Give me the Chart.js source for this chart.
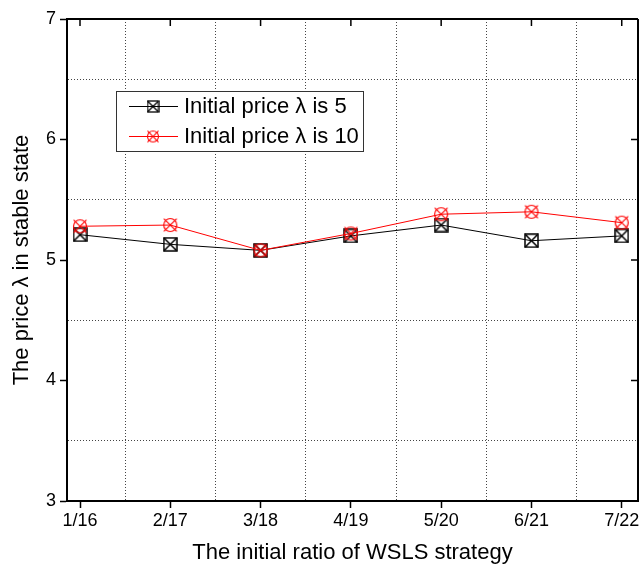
<!DOCTYPE html>
<html>
<head>
<meta charset="utf-8">
<script src="https://cdn.jsdelivr.net/npm/chart.js@4/dist/chart.umd.min.js"></script>
<style>
  html, body { margin: 0; padding: 0; background: #fff; }
  #wrap { width: 639px; height: 569px; position: relative; }
</style>
</head>
<body>
<div id="wrap"><canvas id="c" width="639" height="569"></canvas></div>
<script>
// Category labels along the x axis (initial WSLS ratio)
const categories = ['1/16', '2/17', '3/18', '4/19', '5/20', '6/21', '7/22'];
// Stable-state price for each starting price
const priceStart5  = [5.21, 5.13, 5.08, 5.20, 5.29, 5.16, 5.20];
const priceStart10 = [5.28, 5.29, 5.08, 5.22, 5.38, 5.40, 5.31];
// Series names
const seriesNames = ['Initial price \u03bb is 5', 'Initial price \u03bb is 10'];
// Y axis range and labelled ticks
const yTicks = [3, 4, 5, 6, 7];

const FONT = "Arial, 'Liberation Sans', sans-serif";

// Marker images: boxed cross and circled cross
function makeMarker(shape, color, size, lw) {
  const c = document.createElement('canvas');
  c.width = size; c.height = size;
  const g = c.getContext('2d');
  g.strokeStyle = color;
  g.lineWidth = lw;
  const h = size / 2;
  const r = h - 1;
  if (shape === 'box') {
    g.strokeRect(1, 1, size - 2, size - 2);
    g.beginPath();
    g.moveTo(1, 1); g.lineTo(size - 1, size - 1);
    g.moveTo(size - 1, 1); g.lineTo(1, size - 1);
    g.stroke();
  } else {
    g.beginPath();
    g.arc(h, h, r - 0.5, 0, Math.PI * 2);
    g.stroke();
    const d = r * 0.92;
    g.beginPath();
    g.moveTo(h - d, h - d); g.lineTo(h + d, h + d);
    g.moveTo(h + d, h - d); g.lineTo(h - d, h + d);
    g.stroke();
  }
  return c;
}

const boxMark = makeMarker('box', '#000', 15, 1.5);
const circMark = makeMarker('circle', '#ff0000', 16, 1.2);
const boxMarkSmall = makeMarker('box', '#000', 13, 1.3);
const circMarkSmall = makeMarker('circle', '#ff0000', 14, 1.1);

const toPoints = arr => arr.map((v, i) => ({ x: i + 1, y: v }));

// Border on the top/right edges with inward ticks, plus the boxed legend
const framePlugin = {
  id: 'frame',
  afterDraw(chart) {
    const { ctx, chartArea: a, scales } = chart;
    const xs = scales.x, ys = scales.y;
    ctx.save();
    ctx.strokeStyle = '#000';
    ctx.lineWidth = 2;
    ctx.beginPath();
    ctx.moveTo(a.left, a.top); ctx.lineTo(a.right, a.top);
    ctx.moveTo(a.right, a.top); ctx.lineTo(a.right, a.bottom);
    ctx.stroke();
    ctx.lineWidth = 1.5;
    ctx.beginPath();
    categories.forEach((_, i) => {
      const px = xs.getPixelForValue(i + 1);
      ctx.moveTo(px, a.top); ctx.lineTo(px, a.top + 7);
    });
    yTicks.forEach(v => {
      const py = ys.getPixelForValue(v);
      ctx.moveTo(a.right, py); ctx.lineTo(a.right - 7, py);
    });
    ctx.stroke();

    // legend box
    const lx = 116.5, ly = 91.5, lw = 247, lh = 60;
    ctx.fillStyle = '#fff';
    ctx.fillRect(lx, ly, lw, lh);
    ctx.strokeStyle = '#333';
    ctx.lineWidth = 1;
    ctx.strokeRect(lx, ly, lw, lh);
    const rows = [
      { y: 106, color: '#000', img: boxMarkSmall, text: seriesNames[0] },
      { y: 136, color: '#ff0000', img: circMarkSmall, text: seriesNames[1] }
    ];
    ctx.font = '22px ' + FONT;
    ctx.textBaseline = 'middle';
    ctx.textAlign = 'left';
    rows.forEach(r => {
      ctx.strokeStyle = r.color;
      ctx.lineWidth = 1;
      ctx.beginPath();
      ctx.moveTo(129, r.y + 0.5); ctx.lineTo(178, r.y + 0.5);
      ctx.stroke();
      ctx.drawImage(r.img, 153 - r.img.width / 2, r.y + 0.5 - r.img.height / 2);
      ctx.fillStyle = '#000';
      ctx.fillText(r.text, 184, r.y + 1);
    });
    ctx.restore();
  }
};

const isInt = v => Math.abs(v - Math.round(v)) < 1e-9;

new Chart(document.getElementById('c'), {
  type: 'line',
  data: {
    datasets: [
      {
        label: seriesNames[0],
        data: toPoints(priceStart5),
        borderColor: '#000',
        borderWidth: 1,
        pointStyle: boxMark,
        order: 1
      },
      {
        label: seriesNames[1],
        data: toPoints(priceStart10),
        borderColor: '#ff0000',
        borderWidth: 1,
        pointStyle: circMark,
        order: 0
      }
    ]
  },
  options: {
    responsive: false,
    animation: false,
    layout: { autoPadding: false, padding: { top: 19, right: 1, left: 0, bottom: 0 } },
    plugins: { legend: { display: false }, tooltip: { enabled: false } },
    elements: { line: { tension: 0 } },
    scales: {
      x: {
        type: 'linear',
        min: 0.856,
        max: 7.18,
        afterBuildTicks(s) {
          const t = [];
          for (let v = 1; v <= categories.length; v += 0.5) t.push({ value: v });
          s.ticks = t;
        },
        afterFit(s) { s.height = 68; s.paddingLeft = 0; s.paddingRight = 0; },
        ticks: {
          autoSkip: false,
          maxRotation: 0,
          padding: 2,
          color: '#000',
          font: { family: FONT, size: 18 },
          callback: v => isInt(v) ? categories[Math.round(v) - 1] : ''
        },
        grid: {
          color: c => (c.tick && isInt(c.tick.value)) ? 'rgba(0,0,0,0)' : '#444',
          lineWidth: 1,
          tickLength: 7,
          tickWidth: 1.5,
          tickColor: c => (c.tick && isInt(c.tick.value)) ? '#000' : 'rgba(0,0,0,0)'
        },
        border: { display: true, color: '#000', width: 2, dash: [1, 2] },
        title: {
          display: true,
          text: 'The initial ratio of WSLS strategy',
          color: '#000',
          font: { family: FONT, size: 22 },
          padding: { top: 0, bottom: 3 }
        }
      },
      y: {
        type: 'linear',
        min: 3,
        max: 7,
        afterBuildTicks(s) {
          const t = [];
          for (let v = yTicks[0]; v <= yTicks[yTicks.length - 1]; v += 0.5) t.push({ value: v });
          s.ticks = t;
        },
        afterFit(s) { s.width = 67; s.paddingTop = 0; s.paddingBottom = 0; },
        ticks: {
          padding: 4,
          color: '#000',
          font: { family: FONT, size: 18 },
          callback: v => isInt(v) ? String(v) : ''
        },
        grid: {
          color: c => (c.tick && isInt(c.tick.value)) ? 'rgba(0,0,0,0)' : '#444',
          lineWidth: 1,
          tickLength: 7,
          tickWidth: 1.5,
          tickColor: c => (c.tick && isInt(c.tick.value)) ? '#000' : 'rgba(0,0,0,0)'
        },
        border: { display: true, color: '#000', width: 2, dash: [1, 2] },
        title: {
          display: true,
          text: 'The price \u03bb in stable state',
          color: '#000',
          font: { family: FONT, size: 22 },
          padding: { top: 9, bottom: 0 }
        }
      }
    }
  },
  plugins: [framePlugin]
});
</script>
</body>
</html>
